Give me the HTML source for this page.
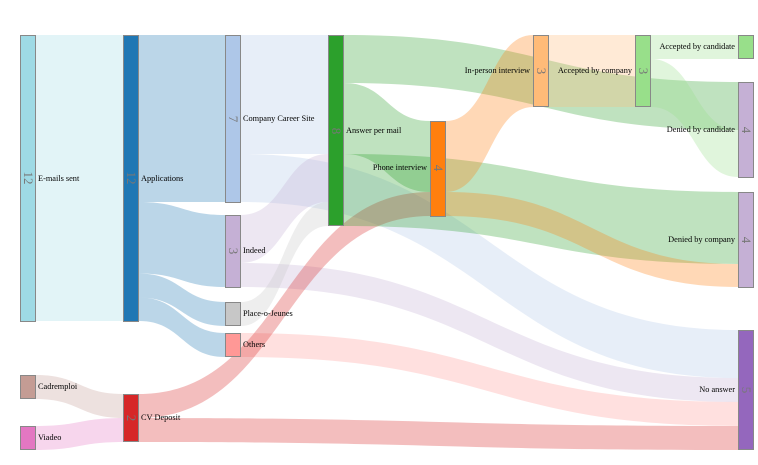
<!DOCTYPE html>
<html><head><meta charset="utf-8"><style>
html,body{margin:0;padding:0;background:#fff;}
svg{display:block;font-family:"Liberation Serif",serif;font-size:8.3px;}
.n{stroke:#888;stroke-width:1;}
.v{fill:#777;font-size:13px;}
</style></head><body>
<svg id="s" width="758" height="465" viewBox="0 0 758 465">
<g id="links"></g>
<g>
<rect class="n" x="20.5" y="35.5" width="15" height="286" fill="#9edae5"/>
<rect class="n" x="123.5" y="35.5" width="15" height="286" fill="#1f77b4"/>
<rect class="n" x="225.5" y="35.5" width="15" height="167" fill="#aec7e8"/>
<rect class="n" x="225.5" y="215.5" width="15" height="72" fill="#c5b0d5"/>
<rect class="n" x="225.5" y="302.5" width="15" height="23" fill="#c7c7c7"/>
<rect class="n" x="225.5" y="333.5" width="15" height="23" fill="#ff9896"/>
<rect class="n" x="20.5" y="375.5" width="15" height="23" fill="#c49c94"/>
<rect class="n" x="20.5" y="426.5" width="15" height="23" fill="#e377c2"/>
<rect class="n" x="123.5" y="394.5" width="15" height="47" fill="#d62728"/>
<rect class="n" x="328.5" y="35.5" width="15" height="190" fill="#2ca02c"/>
<rect class="n" x="430.5" y="121.5" width="15" height="95" fill="#ff7f0e"/>
<rect class="n" x="533.5" y="35.5" width="15" height="71" fill="#ffbb78"/>
<rect class="n" x="635.5" y="35.5" width="15" height="71" fill="#98df8a"/>
<rect class="n" x="738.5" y="35.5" width="15" height="23" fill="#98df8a"/>
<rect class="n" x="738.5" y="82.5" width="15" height="95" fill="#c5b0d5"/>
<rect class="n" x="738.5" y="192.5" width="15" height="95" fill="#c5b0d5"/>
<rect class="n" x="738.5" y="330.5" width="15" height="119" fill="#9467bd"/>
</g>
<g class="v" text-anchor="middle">
<text transform="translate(24,178) rotate(90)">12</text>
<text transform="translate(127,178) rotate(90)">12</text>
<text transform="translate(229,119) rotate(90)">7</text>
<text transform="translate(229,251) rotate(90)">3</text>
<text transform="translate(127,418) rotate(90)">2</text>
<text transform="translate(332,131) rotate(90)">8</text>
<text transform="translate(434,168) rotate(90)">4</text>
<text transform="translate(537,71) rotate(90)">3</text>
<text transform="translate(639,71) rotate(90)">3</text>
<text transform="translate(742,130) rotate(90)">4</text>
<text transform="translate(742,240) rotate(90)">4</text>
<text transform="translate(742,390) rotate(90)">5</text>
</g>
<g fill="#000" dominant-baseline="middle">
<text x="38" y="179">E-mails sent</text>
<text x="141" y="179">Applications</text>
<text x="243" y="119">Company Career Site</text>
<text x="243" y="251">Indeed</text>
<text x="243" y="314">Place-o-Jeunes</text>
<text x="243" y="345">Others</text>
<text x="38" y="387">Cadremploi</text>
<text x="38" y="438">Viadeo</text>
<text x="141" y="418">CV Deposit</text>
<text x="346" y="131">Answer per mail</text>
<g text-anchor="end">
<text x="427" y="168">Phone interview</text>
<text x="530" y="71">In-person interview</text>
<text x="632" y="71">Accepted by company</text>
<text x="735" y="47">Accepted by candidate</text>
<text x="735" y="130">Denied by candidate</text>
<text x="735" y="240">Denied by company</text>
<text x="735" y="390">No answer</text>
</g>
</g>
</svg>
<script>
var L=[
[36,35,321,123,35,321,"#9edae5"],
[139,35,202,225,35,202,"#1f77b4"],
[139,202,273.5,225,215,287,"#1f77b4"],
[139,273.5,297.5,225,302,326,"#1f77b4"],
[139,297.5,321,225,333,357,"#1f77b4"],
[36,375,399,123,394,418,"#c49c94"],
[36,426,450,123,418,442,"#e377c2"],
[241,35,154,328,35,154,"#aec7e8"],
[241,154,202,738,330,378,"#aec7e8"],
[241,215,263,328,154,202,"#c5b0d5"],
[241,263,287,738,378,402,"#c5b0d5"],
[241,302,326,328,202,226,"#c7c7c7"],
[241,333,357,738,402,426,"#ff9896"],
[139,394,418,430,192,216,"#d62728"],
[139,418,442,738,426,450,"#d62728"],
[344,35,83,738,82,130,"#2ca02c"],
[344,83,154,430,121,192,"#2ca02c"],
[344,154,226,738,192,264,"#2ca02c"],
[446,121,192,533,35,107,"#ff7f0e"],
[446,192,216,738,264,287,"#ff7f0e"],
[549,35,107,635,35,107,"#ffbb78"],
[651,35,59,738,35,59,"#98df8a"],
[651,59,107,738,130,177,"#98df8a"]
];
var g=document.getElementById("links"),h="";
L.forEach(function(l){var x0=l[0],x1=l[3],xm=(x0+x1)/2;
h+='<path d="M'+x0+','+l[1]+'C'+xm+','+l[1]+' '+xm+','+l[4]+' '+x1+','+l[4]+'L'+x1+','+l[5]+'C'+xm+','+l[5]+' '+xm+','+l[2]+' '+x0+','+l[2]+'Z" fill="'+l[6]+'" fill-opacity="0.3"/>';});
g.innerHTML=h;
</script>
</body></html>
